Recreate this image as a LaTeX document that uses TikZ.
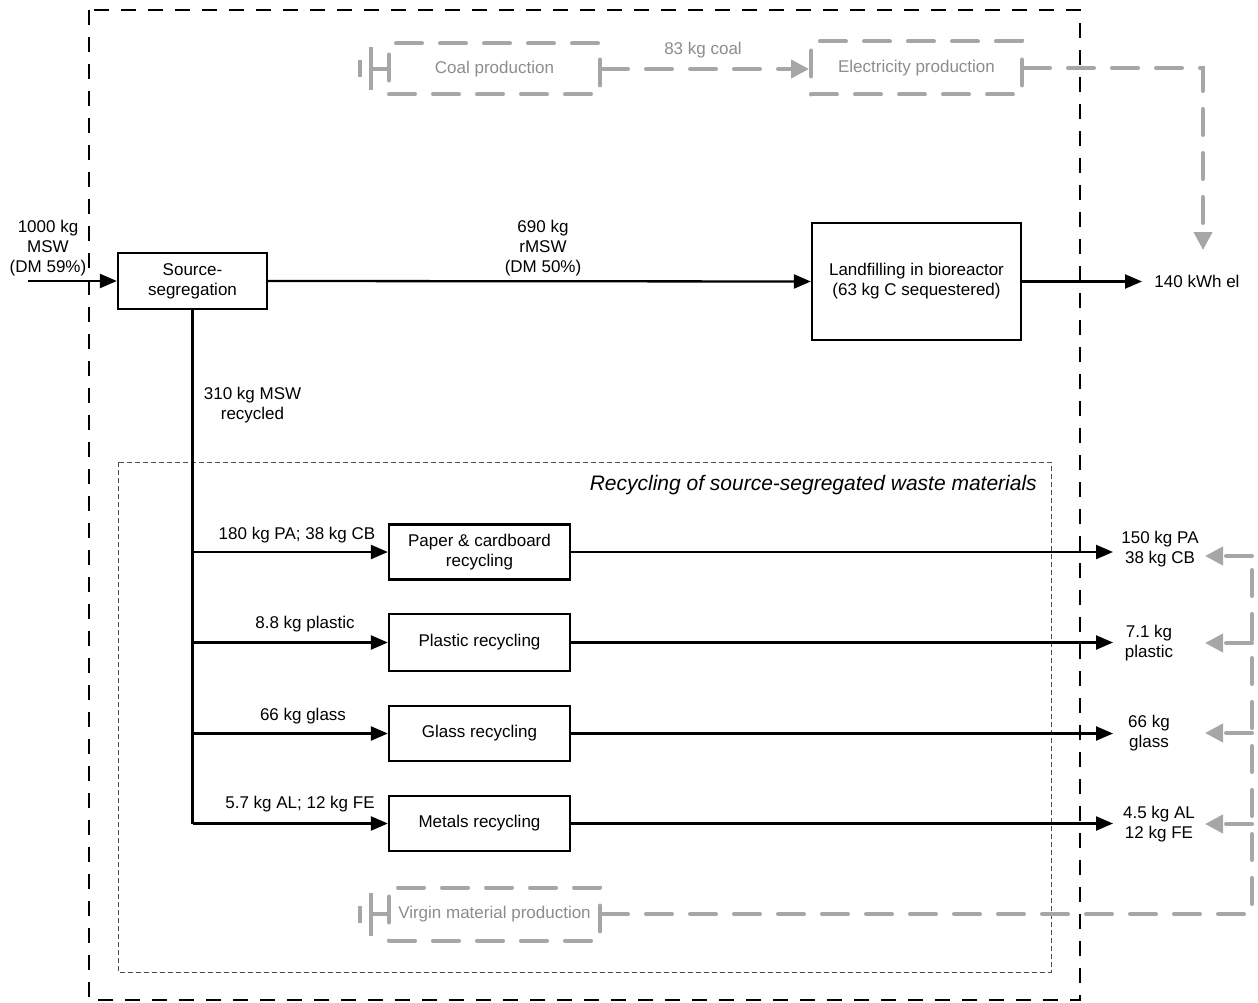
\documentclass[tikz,border=0pt]{standalone}
\usepackage{fontspec}
\setmainfont{Liberation Sans}
\usetikzlibrary{arrows.meta}
\definecolor{ghost}{HTML}{A6A6A6}
\definecolor{ghosttext}{HTML}{8C8C8C}
\definecolor{framegrey}{HTML}{4D4D4D}
\tikzset{
  every node/.style={font=\fontsize{17}{20}\selectfont, inner sep=0pt, align=center},
  procbox/.style={draw, line width=2.3pt},
  ghostbox/.style={draw=ghost, line width=4pt, dash pattern=on 26pt off 18pt,
                   line cap=round, text=ghosttext},
  flow/.style={line width=2.3pt, -{Triangle[length=17pt,width=14pt]}},
  trunk/.style={line width=2.3pt},
  ghostflow/.style={draw=ghost, line width=4pt, dash pattern=on 26pt off 18pt,
                    line cap=round, -{Triangle[length=18pt,width=18pt,fill=ghost]}},
  ghostline/.style={draw=ghost, line width=4pt, dash pattern=on 26pt off 18pt, line cap=round},
  sourcebar/.style={draw=ghost, line width=4pt},
  ghostlabel/.style={text=ghosttext},
}
\begin{document}
\begin{tikzpicture}[x=1pt,y=-1pt]
\useasboundingbox (0,0) rectangle (1258,1003);

% system boundary and recycling sub-system
\draw[line width=2.5pt, dash pattern=on 15pt off 12pt] (89,10) rectangle (1080,1000);
\draw[framegrey, line width=0.9pt, dash pattern=on 5pt off 3pt] (118,462) rectangle (1051,972);
\node[font=\itshape\fontsize{21}{24}\selectfont, anchor=east] (recycllbl) at (1037,485)
  {Recycling of source-segregated waste materials};

% main process boxes
\node[procbox, minimum width=149pt, minimum height=56pt] (src) at (192.5,281) {Source-\\segregation};
\node[procbox, minimum width=209pt, minimum height=117pt] (land) at (916.5,281.5)
  {Landfilling in bioreactor\\(63 kg C sequestered)};
\node[procbox, minimum width=181pt, minimum height=55pt] (paper) at (479.5,552) {Paper \& cardboard\\recycling};
\node[procbox, minimum width=181pt, minimum height=57pt] (plastic) at (479.5,642.5) {Plastic recycling};
\node[procbox, minimum width=181pt, minimum height=55pt] (glass) at (479.5,733.5) {Glass recycling};
\node[procbox, minimum width=181pt, minimum height=55pt] (metals) at (479.5,823.5) {Metals recycling};

% avoided (substituted) processes
\node[ghostbox, minimum width=211pt, minimum height=51pt] (coal) at (494.5,69) {Coal production};
\node[ghostbox, minimum width=211pt, minimum height=53pt] (elec) at (916.5,68) {Electricity production};
\node[ghostbox, minimum width=211pt, minimum height=53pt] (virgin) at (494.5,914) {Virgin material production};

% inputs and flows
\coordinate (in) at (28,281);
\draw[flow] (in) -- (src.west);
\node (inlbl) at (48,248) {1000 kg\\MSW\\(DM 59\%)};

\draw[flow] (src.east) -- (land.west);
\node (rmswlbl) at (543,248) {690 kg\\rMSW\\(DM 50\%)};

\coordinate (elout) at (1142,281.5);
\draw[flow] (land.east) -- (elout);
\node (ellbl) at (1197,281.5) {140 kWh el};

% recycled fraction trunk and branches
\coordinate (b1) at (192.5,552);
\coordinate (b2) at (192.5,642.5);
\coordinate (b3) at (192.5,733.5);
\coordinate (b4) at (192.5,823.5);
\draw[trunk] (src.south) -- (b4);
\node (reclbl) at (252.5,405) {310 kg MSW\\recycled};

\draw[flow] (b1) -- (paper.west);
\draw[flow] (b2) -- (plastic.west);
\draw[flow] (b3) -- (glass.west);
\draw[flow] (b4) -- (metals.west);
\node (l1) at (297,535) {180 kg PA; 38 kg CB};
\node (l2) at (305,624) {8.8 kg plastic};
\node (l3) at (303,716) {66 kg glass};
\node (l4) at (300,804) {5.7 kg AL; 12 kg FE};

% recycled products
\coordinate (o1) at (1113,552);
\coordinate (o2) at (1113,642.5);
\coordinate (o3) at (1113,733.5);
\coordinate (o4) at (1113,823.5);
\draw[flow] (paper.east) -- (o1);
\draw[flow] (plastic.east) -- (o2);
\draw[flow] (glass.east) -- (o3);
\draw[flow] (metals.east) -- (o4);
\node (p1) at (1160,549) {150 kg PA\\38 kg CB};
\node (p2) at (1149,643) {7.1 kg\\plastic};
\node (p3) at (1149,733) {66 kg\\glass};
\node (p4) at (1159,824) {4.5 kg AL\\12 kg FE};

% source symbols of the avoided chains
\coordinate (cs1a) at (360,60);  \coordinate (cs1b) at (360,77);
\coordinate (cs2a) at (371,47);  \coordinate (cs2b) at (371,90);
\coordinate (cs3) at (371,69);
\draw[sourcebar] (cs1a) -- (cs1b);
\draw[sourcebar] (cs2a) -- (cs2b);
\draw[sourcebar] (cs3) -- (coal.west);

\coordinate (vs1a) at (360,906); \coordinate (vs1b) at (360,923);
\coordinate (vs2a) at (371,893); \coordinate (vs2b) at (371,936);
\coordinate (vs3) at (371,914);
\draw[sourcebar] (vs1a) -- (vs1b);
\draw[sourcebar] (vs2a) -- (vs2b);
\draw[sourcebar] (vs3) -- (virgin.west);

% avoided electricity chain
\draw[ghostflow] (coal.east) -- (elec.west |- coal.east);
\node[ghostlabel] (coallbl) at (703,50) {83 kg coal};
\coordinate (ecorner) at (1203,68);
\coordinate (etip) at (1203,250);
\draw[ghostflow] (elec.east) -- (ecorner) -- (etip);

% avoided virgin material chain
\coordinate (vcorner) at (1252,914);
\coordinate (r1) at (1252,556);
\coordinate (r2) at (1252,643);
\coordinate (r3) at (1252,733);
\coordinate (r4) at (1252,824);
\coordinate (t1) at (1205,556);
\coordinate (t2) at (1205,643);
\coordinate (t3) at (1205,733);
\coordinate (t4) at (1205,824);
\draw[ghostline] (virgin.east) -- (vcorner) -- (r1);
\draw[ghostflow] (r1) -- (t1);
\draw[ghostflow] (r2) -- (t2);
\draw[ghostflow] (r3) -- (t3);
\draw[ghostflow] (r4) -- (t4);
\end{tikzpicture}
\end{document}
